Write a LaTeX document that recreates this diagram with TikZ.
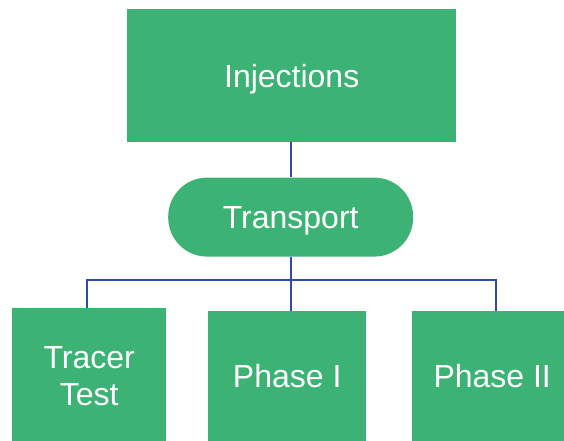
\documentclass[tikz,border=0pt]{standalone}
\usepackage{fontspec}
\setmainfont{Liberation Sans}
\usetikzlibrary{positioning}
\definecolor{boxgreen}{RGB}{60,179,116}
\definecolor{wireblue}{RGB}{47,75,160}

\begin{document}
\begin{tikzpicture}[
  x=1pt, y=-1pt,
  font=\fontsize{32}{37.5}\selectfont,
  box/.style={fill=boxgreen, text=white, align=center, inner sep=0pt},
  oneline/.style={text height=23pt, text depth=0pt},
  topbox/.style={box, oneline, minimum width=329pt, minimum height=133pt},
  pill/.style={box, oneline, rounded corners=39pt, minimum width=245pt, minimum height=79pt},
  leaf/.style={box, minimum height=130pt},
  wire/.style={draw=wireblue, line width=1.8pt},
]
\useasboundingbox (0,0) rectangle (564,441);
% --- top of the tree ---------------------------------------------------
\node[topbox, anchor=north west] (inj) at (127,9) {Injections};
\node[pill, below=35pt of inj.south, xshift=-1pt] (trans) {Transport};

% --- leaves, top edges on one line -------------------------------------
\node[leaf, minimum width=154pt, minimum height=136pt, anchor=north west] (tracer) at (12,308) {Tracer\\Test};
\node[leaf, oneline, minimum width=158pt, anchor=north west] (ph1) at (208,311) {Phase I};
\node[leaf, oneline, minimum width=160pt, anchor=north west] (ph2) at (412,311) {Phase II};

% --- wires -------------------------------------------------------------
\draw[wire] (inj.south -| trans.north) -- (trans.north);
\draw[wire] (trans.south) -- ++(0,23) coordinate (bus);
\draw[wire] (bus) -| ([xshift=-2pt]tracer.north);
\draw[wire] (bus) -- (bus |- ph1.north);
\draw[wire] (bus) -| ([xshift=4pt]ph2.north);
\end{tikzpicture}
\end{document}
